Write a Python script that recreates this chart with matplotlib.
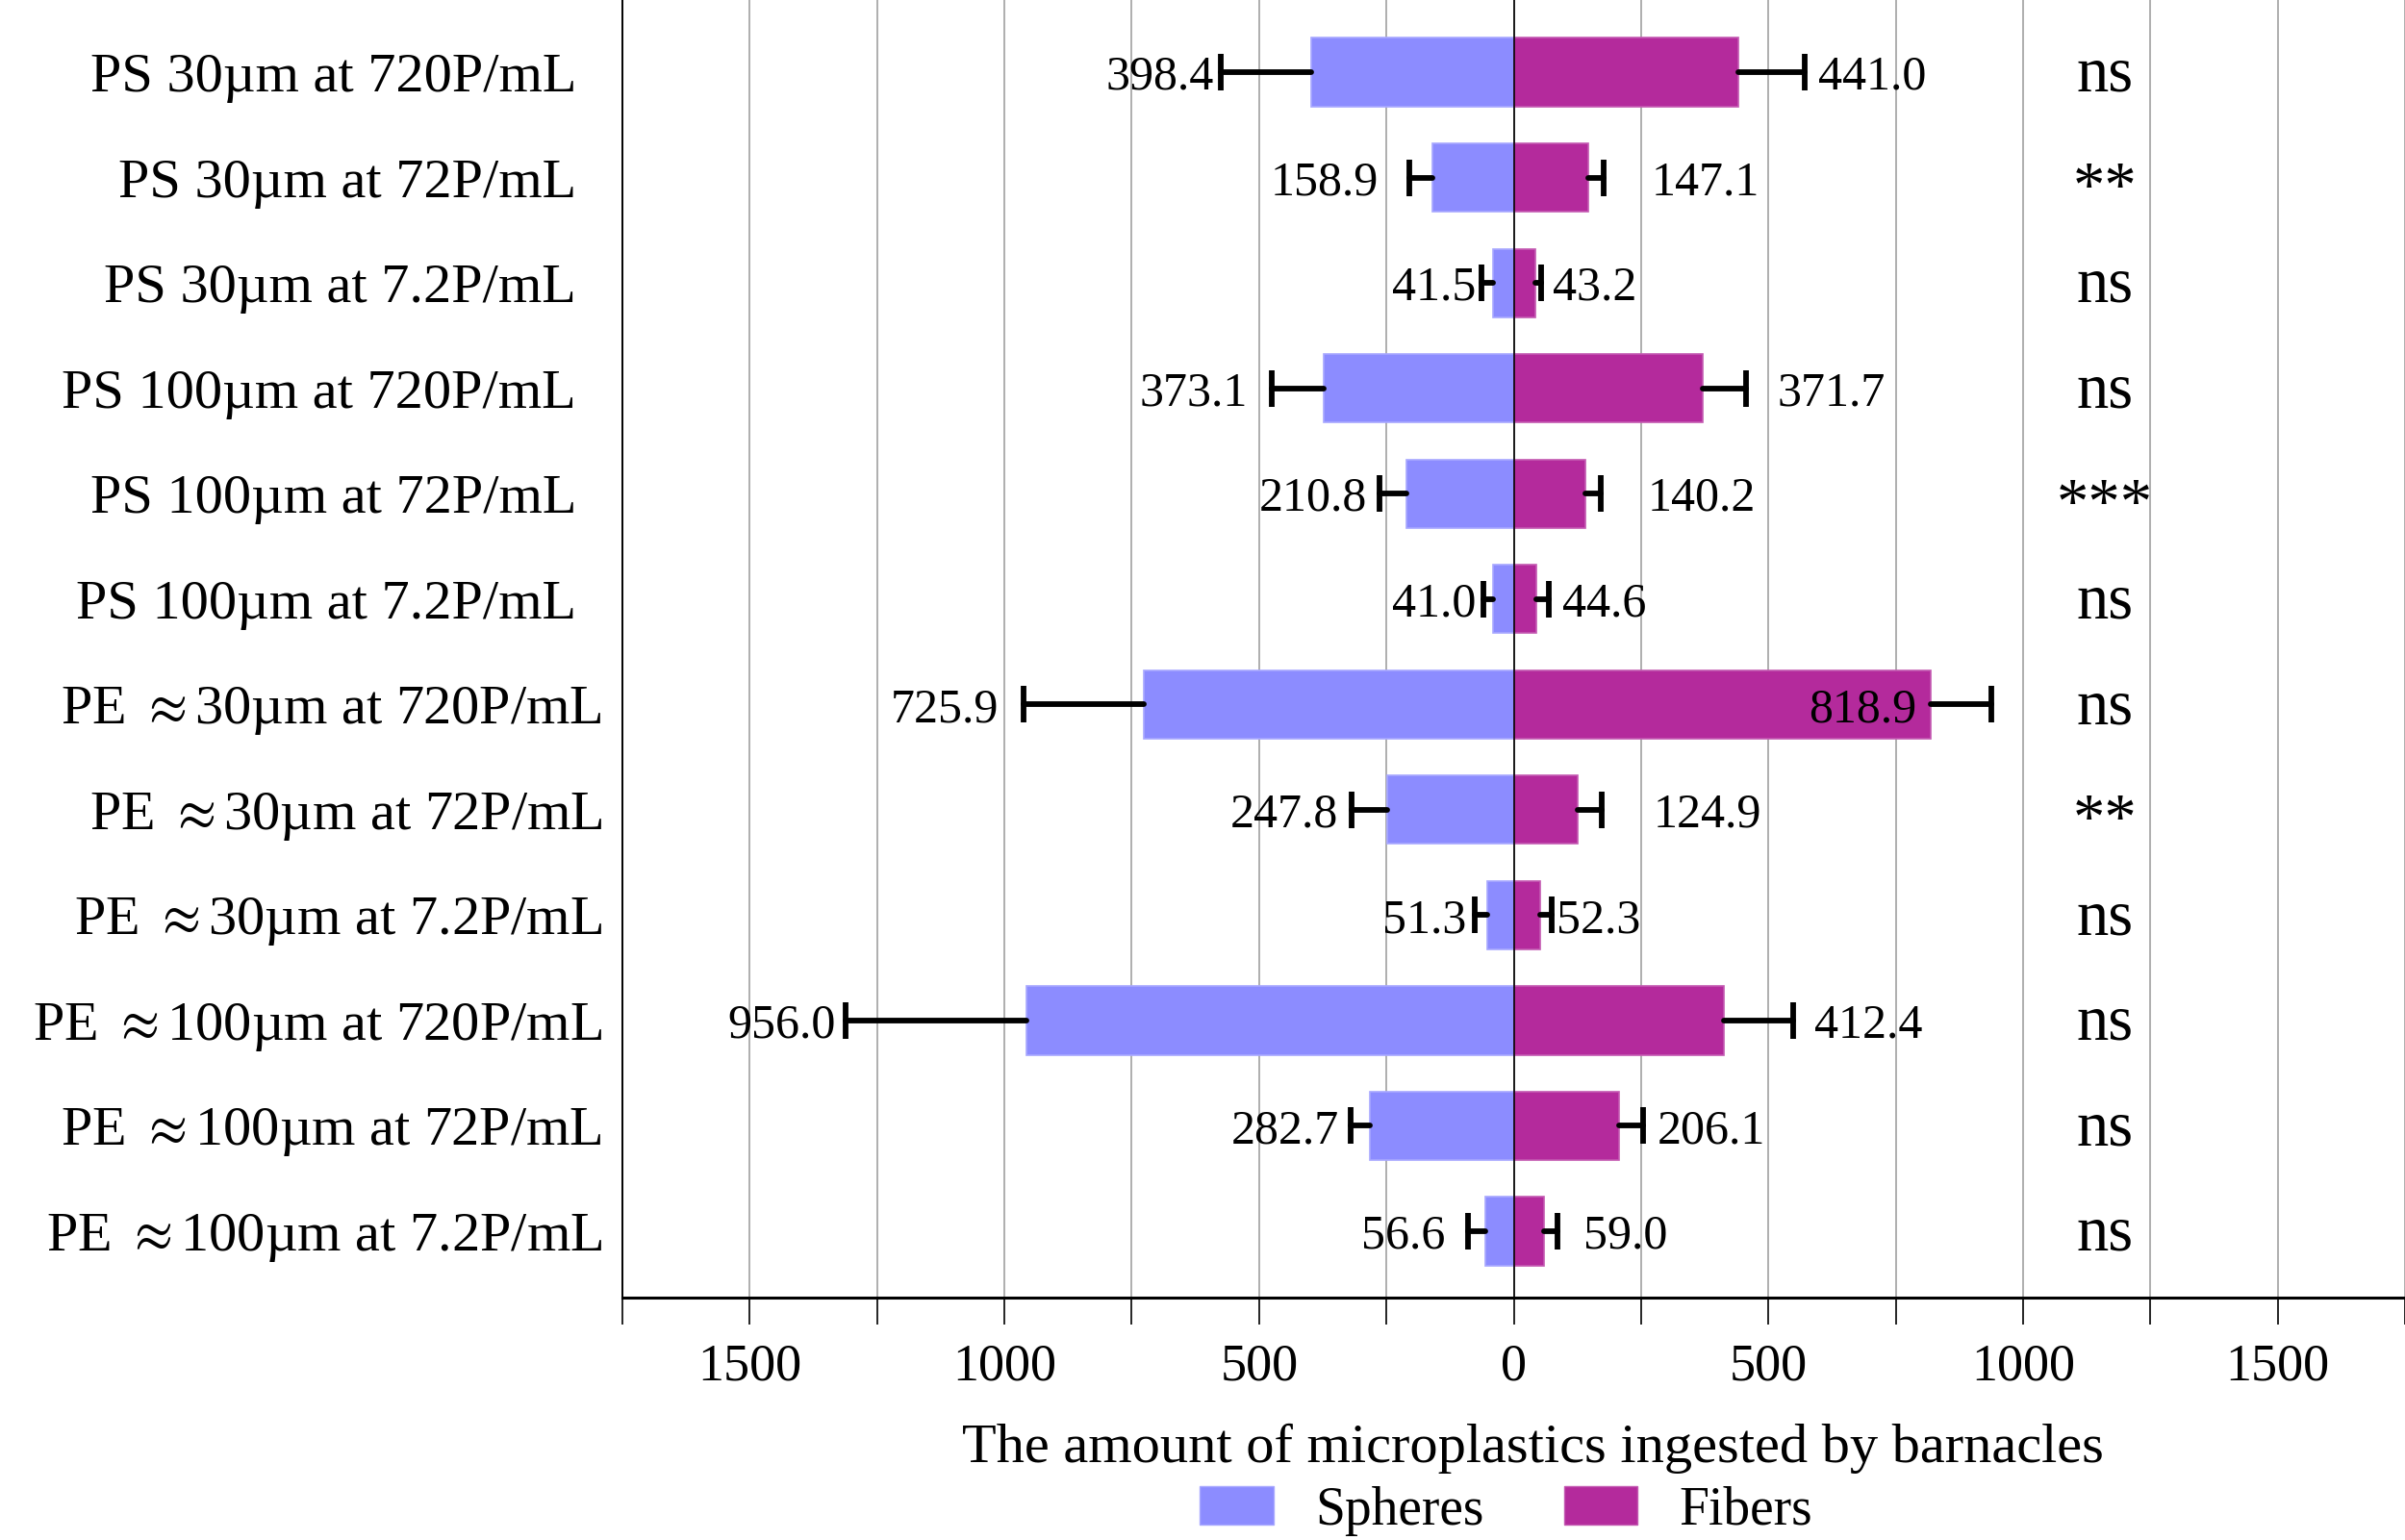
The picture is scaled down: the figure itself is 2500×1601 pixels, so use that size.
import matplotlib.pyplot as plt
from matplotlib.patches import Patch
from matplotlib.ticker import MultipleLocator, FuncFormatter

plt.rcParams['font.family'] = ['Liberation Serif', 'DejaVu Serif']
plt.rcParams['mathtext.fontset'] = 'stix'

# ---- data ----
groups = [
    'PS 30µm at 720P/mL', 'PS 30µm at 72P/mL', 'PS 30µm at 7.2P/mL',
    'PS 100µm at 720P/mL', 'PS 100µm at 72P/mL', 'PS 100µm at 7.2P/mL',
    r'PE $\approx$30µm at 720P/mL', r'PE $\approx$30µm at 72P/mL',
    r'PE $\approx$30µm at 7.2P/mL', r'PE $\approx$100µm at 720P/mL',
    r'PE $\approx$100µm at 72P/mL', r'PE $\approx$100µm at 7.2P/mL',
]
spheres = [398.4, 158.9, 41.5, 373.1, 210.8, 41.0, 725.9, 247.8, 51.3, 956.0, 282.7, 56.6]
fibers = [441.0, 147.1, 43.2, 371.7, 140.2, 44.6, 818.9, 124.9, 52.3, 412.4, 206.1, 59.0]
spheres_err = [176, 46, 22, 101, 52, 19, 236, 70, 25, 356, 37, 34]
fibers_err = [130, 30, 11, 84, 30, 25, 119, 48, 22, 137, 48, 26]
signif = ['ns', '**', 'ns', 'ns', '***', 'ns', 'ns', '**', 'ns', 'ns', 'ns', 'ns']

# label gap from the error cap (data units); negative = inside the bar
sph_gap = [15, 61, 11, 48, 25, 13, 49, 27, 16, 20, 23, 44]
fib_gap = [27, 93, 23, 62, 92, 25, -28, 101, 9, 40, 27, 52]

SPH_COLOR = '#8C8CFF'
FIB_COLOR = '#B42A9C'

fig = plt.figure(figsize=(25, 16.01), dpi=100)
ax = fig.add_axes([0.2588, 0.1574, 0.7412, 0.8426])

y = list(range(len(groups)))

ax.barh(y, [-v for v in spheres], height=0.65, color=SPH_COLOR,
        edgecolor='#A8A8FF', linewidth=1.2, zorder=2)
ax.barh(y, fibers, height=0.65, color=FIB_COLOR,
        edgecolor='#C45AB2', linewidth=1.2, zorder=2)

# one-sided error bars
sph_end = [-(v + e) for v, e in zip(spheres, spheres_err)]
fib_end = [v + e for v, e in zip(fibers, fibers_err)]
ax.hlines(y, [-v for v in spheres], sph_end, colors='k', linewidth=4.2,
          capstyle='round', zorder=3)
ax.hlines(y, fibers, fib_end, colors='k', linewidth=4.2,
          capstyle='round', zorder=3)
ax.plot(sph_end, y, ls='none', marker='|', ms=27, mew=4.2, color='k', zorder=3)
ax.plot(fib_end, y, ls='none', marker='|', ms=27, mew=4.2, color='k', zorder=3)

# value labels and significance marks
for i in y:
    ax.text(sph_end[i] - sph_gap[i], i + 0.05, f'{spheres[i]:.1f}', ha='right',
            va='center', fontsize=36, zorder=4)
    if fib_gap[i] < 0:
        ax.text(fibers[i] + fib_gap[i], i + 0.05, f'{fibers[i]:.1f}', ha='right',
                va='center', fontsize=36, zorder=4)
    else:
        ax.text(fib_end[i] + fib_gap[i], i + 0.05, f'{fibers[i]:.1f}', ha='left',
                va='center', fontsize=36, zorder=4)
    dy = 0.12 if '*' in signif[i] else 0.03
    ax.text(1160, i + dy, signif[i], ha='center', va='center', fontsize=48, zorder=4)

ax.axvline(0, color='k', linewidth=1.2, zorder=3)

ax.set_xlim(-1750, 1750)
ax.set_ylim(11.63, -0.685)
ax.set_yticks(y)
ax.set_yticklabels([g + '  ' if g.startswith('PS') else g for g in groups],
                   fontsize=42)
ax.tick_params(axis='y', length=0, pad=15)

ax.xaxis.set_major_locator(MultipleLocator(500))
ax.xaxis.set_minor_locator(MultipleLocator(250))
ax.xaxis.set_major_formatter(FuncFormatter(lambda v, p: f'{abs(v):.0f}'))
ax.tick_params(axis='x', which='both', direction='out', length=20, width=1.2,
               labelsize=39, pad=14)
ax.grid(True, axis='x', which='both', color='#a8a8a8', linewidth=1.3, zorder=0)
ax.set_axisbelow(True)

ax.spines['top'].set_visible(False)
ax.spines['right'].set_visible(False)
ax.spines['left'].set_linewidth(1.4)
ax.spines['bottom'].set_linewidth(2.2)

ax.set_xlabel('The amount of microplastics ingested by barnacles', fontsize=42,
              labelpad=24)
ax.xaxis.label.set_x(0.511)

handles = [Patch(facecolor=SPH_COLOR, edgecolor='#A8A8FF', label='Spheres'),
           Patch(facecolor=FIB_COLOR, edgecolor='#C45AB2', label='Fibers')]
fig.legend(handles=handles, loc='center', bbox_to_anchor=(0.6262, 0.019),
           ncol=2, frameon=False, fontsize=40, handlelength=1.38,
           handleheight=0.72, handletextpad=0.78, columnspacing=1.5,
           borderpad=0, borderaxespad=0)

fig.savefig('out.png', dpi=100)
